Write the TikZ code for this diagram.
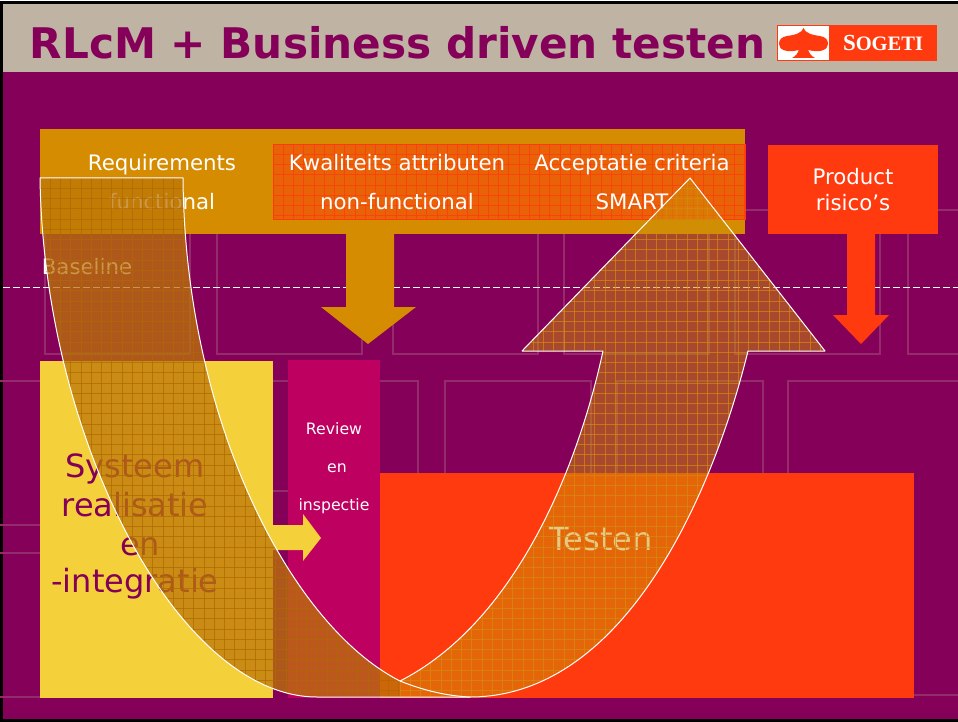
\documentclass[tikz,border=0pt]{standalone}
\usepackage{fontspec}
\setmainfont{DejaVu Sans}
\newfontfamily\logofont{Liberation Serif}

\definecolor{slidepurple}{HTML}{850058}
\definecolor{headgrey}{HTML}{BFB3A3}
\definecolor{amberband}{HTML}{D68C00}
\definecolor{sogetired}{HTML}{FF3A0F}
\definecolor{sysyellow}{HTML}{F4D03A}
\definecolor{reviewpink}{HTML}{BE0060}
\definecolor{ghostline}{HTML}{942C6C}
\definecolor{sweepleft}{HTML}{BC7608}
\definecolor{sweepright}{HTML}{CC9204}
\definecolor{gridleft}{HTML}{AE6A00}
\definecolor{gridright}{HTML}{D48A10}

\tikzset{
    txt/.style={anchor=base, text=white, inner sep=0pt, font=\fontsize{21.3}{25}\selectfont},
    smalltxt/.style={txt, font=\fontsize{15.7}{19}\selectfont},
    bigtxt/.style={txt, text=slidepurple, font=\fontsize{32}{37}\selectfont},
    ghostbox/.style={draw=ghostline, line width=1.1pt},
    thingrid/.style={line width=0.55pt, draw opacity=0.7}
}

\newcommand{\sweepshape}{
    (40,178) .. controls (44,440) and (178,697) .. (317,697) -- (470,697)
    .. controls (620,697) and (710,505) .. (748,351) -- (825,351) -- (690,178)
    -- (522,351) -- (603,351) .. controls (575,480) and (510,625) .. (400,681)
    .. controls (290,625) and (185,420) .. (183,178) -- cycle
}

\begin{document}
\begin{tikzpicture}[x=1pt, y=-1pt]
    \useasboundingbox (0,0) rectangle (958,722);
    \clip (0,0) rectangle (958,722);

    % Draw slide frame and header
    \fill[white] (0,0) rectangle (958,722);
    \fill[black] (0,1) rectangle (958,722);
    \fill[slidepurple] (3,4) rectangle (958,719);
    \fill[headgrey] (3,4) rectangle (958,72);
    \node[txt, anchor=base west, text=slidepurple, font=\fontsize{42.2}{50}\selectfont\bfseries] (title) at (29.5,59) {RLcM + Business driven testen};

    % Draw logo
    \fill[sogetired] (777,25) rectangle (937,61);
    \fill[white] (778,26) rectangle (829,60);
    \fill[sogetired] (803.5,28) .. controls (805,33) and (812,35) .. (820,36)
        .. controls (826,37) and (828,40) .. (828,44) .. controls (828,50) and (820,53) .. (808,50)
        .. controls (809,53) and (811,56) .. (815,58) -- (792,58)
        .. controls (796,56) and (798,53) .. (799,50) .. controls (787,53) and (779,50) .. (779,44)
        .. controls (779,40) and (781,37) .. (787,36) .. controls (795,35) and (802,33) .. (803.5,28) -- cycle;
    \node[txt, anchor=base, font=\logofont\bfseries\fontsize{20.5}{22}\selectfont] (logotext) at (883,51) {{\fontsize{23}{22}\selectfont S}OGETI};

    % Draw faint background boxes
    \foreach \x in {45,217,393,564,735,908} {
      \draw[ghostbox] (\x,210) rectangle +(145,144);
    }
    \foreach \x in {272,445,617} {
      \draw[ghostbox] (\x,381) rectangle +(146,110);
    }
    \draw[ghostbox] (788,381) rectangle (1000,695);
    \draw[ghostbox] (-10,381) rectangle (260,525);
    \draw[ghostbox] (-10,553) rectangle (260,697);

    % Draw baseline
    \draw[white, line width=1pt, dash pattern=on 7pt off 3pt] (3,287.5) -- (958,287.5);

    % Draw top band and down arrows
    \fill[amberband] (346,230) -- (394,230) -- (394,307) -- (416,307) -- (368,344) -- (321,307) -- (346,307) -- cycle;
    \fill[amberband] (40,129) rectangle (745,234);
    \fill[sogetired] (847,230) -- (875,230) -- (875,315) -- (889,315) -- (861,344) -- (833,315) -- (847,315) -- cycle;
    \fill[sogetired] (768,145) rectangle (938,234);

    % Draw red hatched block
    \fill[sogetired, fill opacity=0.5] (273,144) rectangle (745,219);
    \foreach \k in {1,...,46} {
      \draw[sogetired, thingrid] (273+\k*10.25,144) -- (273+\k*10.25,219);
    }
    \foreach \k in {1,...,7} {
      \draw[sogetired, thingrid] (273,144+\k*10.25) -- (745,144+\k*10.25);
    }
    \draw[sogetired, line width=0.9pt] (273,144) rectangle (745,219);

    % Draw lower blocks
    \fill[sysyellow] (40,361) rectangle (273,698);
    \fill[reviewpink] (288,360) rectangle (380,698);
    \fill[sogetired] (380,473) rectangle (914,698);
    \fill[sysyellow] (270,525) -- (303,525) -- (303,514) -- (321,538) -- (303,561) -- (303,550) -- (270,550) -- cycle;

    % Draw labels, the sweep lies over them
    \foreach \n/\x/\y/\t in {req/162/171/Requirements, func/162/209/functional,
        kwal/397/171/Kwaliteits attributen, nonfunc/397/209/non-functional,
        acc/632/171/Acceptatie criteria, smart/632/209/SMART,
        prod/853/185/Product, ris/853/211/risico’s, base/87/274/Baseline} {
      \node[txt] (\n) at (\x,\y) {\t};
    }
    \foreach \n/\x/\y/\t in {rev/334/434/Review, revb/337/472/en, insp/334/510/inspectie} {
      \node[smalltxt] (\n) at (\x,\y) {\t};
    }
    \foreach \n/\x/\y/\t in {sys/135/477/Systeem, real/135/516/realisatie, syb/140/555/en, integ/135/592/-integratie} {
      \node[bigtxt] (\n) at (\x,\y) {\t};
    }
    \node[bigtxt, text=white] (test) at (601,550) {Testen};

    % Draw sweep, left part denser than right part
    \begin{scope}
      \clip (0,0) rectangle (400,722);
      \fill[sweepleft, fill opacity=0.75] \sweepshape;
      \clip \sweepshape;
      \foreach \k in {1,...,35} {
        \draw[gridleft, thingrid] (40+\k*10.25,178) -- (40+\k*10.25,700);
      }
      \foreach \k in {1,...,51} {
        \draw[gridleft, thingrid] (40,178+\k*10.25) -- (400,178+\k*10.25);
      }
    \end{scope}
    \begin{scope}
      \clip (400,0) rectangle (958,722);
      \fill[sweepright, fill opacity=0.5] \sweepshape;
      \clip \sweepshape;
      \foreach \k in {0,...,42} {
        \draw[gridright, thingrid] (400+\k*10.25,178) -- (400+\k*10.25,700);
      }
      \foreach \k in {1,...,51} {
        \draw[gridright, thingrid] (400,178+\k*10.25) -- (830,178+\k*10.25);
      }
    \end{scope}
    \draw[white, line width=1pt, line join=round] \sweepshape;
    \draw[white, line width=1pt] (400,681) .. controls (425,691) and (448,696) .. (470,697);
\end{tikzpicture}
\end{document}
